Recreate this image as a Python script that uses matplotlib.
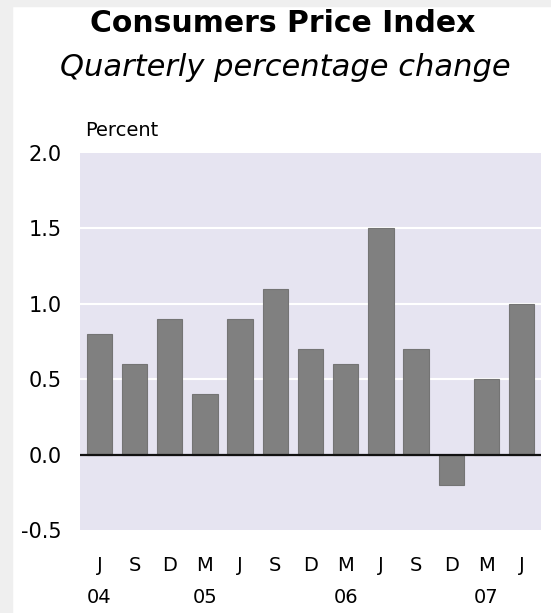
import matplotlib
matplotlib.use("Agg")
import matplotlib.pyplot as plt
import numpy as np

plt.rcParams["font.family"] = ["DejaVu Sans"]

# quarterly CPI change, Jun 2004 - Jun 2007
quarters = ["J", "S", "D", "M", "J", "S", "D", "M", "J", "S", "D", "M", "J"]
years = ["04", "05", "06", "07"]
year_pos = [0, 3, 7, 11]
cpi_change = [0.8, 0.6, 0.9, 0.4, 0.9, 1.1, 0.7, 0.6, 1.5, 0.7, -0.2, 0.5, 1.0]
y_ticks = [-0.5, 0.0, 0.5, 1.0, 1.5, 2.0]

W, H = 551, 613
fig = plt.figure(figsize=(W / 100, H / 100), dpi=100)
fig.patch.set_facecolor("white")

# light grey page border on the left and top
fig.add_artist(plt.Rectangle((0, 0), 12 / W, 1, transform=fig.transFigure,
                             color="#efefef", zorder=0))
fig.add_artist(plt.Rectangle((0, 1 - 6 / H), 1, 6 / H, transform=fig.transFigure,
                             color="#efefef", zorder=0))

ax = fig.add_axes([80 / W, 1 - 530 / H, (541 - 80) / W, (530 - 153) / H])
ax.set_facecolor("#e6e4f1")

x = np.arange(len(cpi_change))
ax.bar(x, cpi_change, width=0.72, color="#808080", edgecolor="#747474",
       linewidth=0.8, zorder=3)

ax.set_xlim(-0.55, len(cpi_change) - 0.45)
ax.set_ylim(-0.5, 2.0)
for g in [0.5, 1.0, 1.5]:
    ax.axhline(g, color="white", linewidth=1.5, zorder=1)
ax.axhline(0, color="#111111", linewidth=1.6, zorder=4)

for s in ax.spines.values():
    s.set_visible(False)
ax.tick_params(length=0)
ax.set_yticks(y_ticks)
ax.set_yticklabels(["%.1f" % v for v in y_ticks], fontsize=15)
ax.tick_params(axis="y", pad=13)

# two-row date axis: quarter letters and year under the March quarter
ax.set_xticks([])
trans = ax.get_xaxis_transform()
for i, q in enumerate(quarters):
    ax.text(i, -0.095, q, transform=trans, fontsize=14,
            ha="center", va="center", clip_on=False)
for p, yr in zip(year_pos, years):
    ax.text(p, -0.18, yr, transform=trans, fontsize=14,
            ha="center", va="center", clip_on=False)

fig.text(283 / W, 1 - 23 / H, "Consumers Price Index", fontsize=21.5,
         fontweight="bold", ha="center", va="center")
fig.text(285 / W, 1 - 68 / H, "Quarterly percentage change", fontsize=22,
         style="italic", ha="center", va="center")
fig.text(85 / W, 1 - 131 / H, "Percent", fontsize=14, ha="left", va="center")

fig.savefig("out.png", dpi=100)
